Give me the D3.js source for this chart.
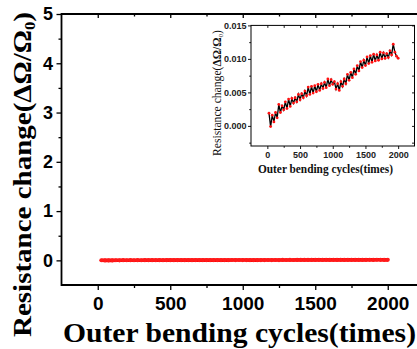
<!DOCTYPE html>
<html><head><meta charset="utf-8">
<script src="https://cdn.jsdelivr.net/npm/d3@7"></script>
<style>body{margin:0;background:#fff}svg{display:block}</style>
</head><body>
<svg id="c" width="417" height="349"></svg>
<script>
const cycles = [25,50,75,100,125,150,175,200,225,250,275,300,325,350,375,400,425,450,475,500,
525,550,575,600,625,650,675,700,725,750,775,800,825,850,875,900,925,950,975,1000,
1025,1050,1075,1100,1125,1150,1175,1200,1225,1250,1275,1300,1325,1350,1375,1400,1425,1450,1475,1500,
1525,1550,1575,1600,1625,1650,1675,1700,1725,1750,1775,1800,1825,1850,1875,1900,1925,1950,1975,2000];
const resistance = [0.0019,-0.0001,0.0016,0.0006,0.0020,0.0012,0.0032,0.0020,0.0030,0.0024,
0.0036,0.0026,0.0040,0.0029,0.0041,0.0034,0.0042,0.0036,0.0047,0.0039,
0.0048,0.0042,0.0052,0.0045,0.0058,0.0047,0.0059,0.0049,0.0060,0.0051,
0.0062,0.0053,0.0063,0.0056,0.0065,0.0057,0.0070,0.0060,0.0069,0.0062,
0.0066,0.0055,0.0063,0.0053,0.0066,0.0059,0.0070,0.0063,0.0077,0.0068,
0.0080,0.0072,0.0085,0.0077,0.0090,0.0082,0.0096,0.0087,0.0098,0.0090,
0.0103,0.0093,0.0105,0.0095,0.0107,0.0097,0.0106,0.0098,0.0110,0.0100,
0.0109,0.0101,0.0108,0.0102,0.0112,0.0106,0.0122,0.0110,0.0104,0.0101];
const mainXTicks = [0,500,1000,1500,2000];
const mainXMinor = [250,750,1250,1750];
const mainYTicks = [0,1,2,3,4,5];
const mainYMinor = [0.5,1.5,2.5,3.5,4.5];
const insetXTicks = [0,500,1000,1500,2000];
const insetXMinor = [250,750,1250,1750];
const insetYTicks = [0,0.005,0.010,0.015];
const insetYMinor = [-0.0025,0.0025,0.0075,0.0125];

const data = cycles.map((c,i)=>({c, v: resistance[i]}));
const svg = d3.select("#c");
const SANS = "'Liberation Sans', Arial, sans-serif";
const SERIF = "'Liberation Serif', 'Times New Roman', serif";
const intFmt = d3.format("d");

// ---------- main plot ----------
const x = d3.scaleLinear().domain([-250,2250]).range([61.5,424]);
const y = d3.scaleLinear().domain([-0.5,5]).range([285,14]);

function styleAxis(g, fs){
  g.select(".domain").remove();
  g.selectAll(".tick line").attr("stroke","#000").attr("stroke-width",1.3);
  g.selectAll("text").attr("font-family",SANS).attr("font-weight","bold").attr("font-size",fs).attr("fill","#000");
}
svg.append("g").attr("transform","translate(0,285)")
  .call(d3.axisBottom(x).tickValues(mainXTicks).tickSize(5).tickPadding(7).tickFormat(intFmt)).call(g=>styleAxis(g,19));
svg.append("g").attr("transform","translate(0,285)")
  .call(d3.axisBottom(x).tickValues(mainXMinor).tickSize(3).tickFormat("")).call(g=>styleAxis(g,19));
svg.append("g").attr("transform","translate(61.5,0)")
  .call(d3.axisLeft(y).tickValues(mainYTicks).tickSize(5).tickPadding(3.5).tickFormat(intFmt)).call(g=>styleAxis(g,18));
svg.append("g").attr("transform","translate(61.5,0)")
  .call(d3.axisLeft(y).tickValues(mainYMinor).tickSize(3).tickFormat("")).call(g=>styleAxis(g,18));
svg.append("g").attr("transform","translate(0,14)")
  .call(d3.axisTop(x).tickValues(mainXTicks).tickSize(-4).tickFormat("")).call(g=>styleAxis(g,18));
svg.append("g").attr("transform","translate(0,14)")
  .call(d3.axisTop(x).tickValues(mainXMinor).tickSize(-2.5).tickFormat("")).call(g=>styleAxis(g,18));
// frame
svg.append("path").attr("d",`M${x(2250)},14H61.5V285H${x(2250)}`)
  .attr("fill","none").attr("stroke","#000").attr("stroke-width",1.8);

// main series
svg.append("path").datum(data)
  .attr("d", d3.line().x(d=>x(d.c)).y(d=>y(d.v)))
  .attr("fill","none").attr("stroke","#ff0000").attr("stroke-width",3.6);
svg.append("g").selectAll("circle").data(data).join("circle")
  .attr("cx",d=>x(d.c)).attr("cy",d=>y(d.v)).attr("r",2.1).attr("fill","#ff1a1a");

// main titles
svg.append("text").attr("transform","translate(31,174.5) rotate(-90)")
  .attr("text-anchor","middle").attr("font-family",SERIF).attr("font-weight","bold")
  .attr("font-size",26).attr("textLength",325).attr("lengthAdjust","spacingAndGlyphs")
  .call(t=>{
    t.append("tspan").text("Resistance change(ΔΩ/Ω");
    t.append("tspan").attr("font-size",15).attr("dy",4).text("0");
    t.append("tspan").attr("dy",-4).text(")");
  });
svg.append("text").attr("x",63).attr("y",342)
  .attr("font-family",SERIF).attr("font-weight","bold").attr("font-size",27)
  .attr("textLength",353).attr("lengthAdjust","spacingAndGlyphs")
  .text("Outer bending cycles(times)");

// ---------- inset ----------
const ix = d3.scaleLinear().domain([-250,2250]).range([251,414.5]);
const iy = d3.scaleLinear().domain([-0.003,0.015]).range([146,25.4]);
const L=251, R=414.5, T=25.4, B=146;
svg.append("rect").attr("x",L).attr("y",T).attr("width",R-L).attr("height",B-T).attr("fill","#fff");
function styleInset(g){
  g.select(".domain").remove();
  g.selectAll(".tick line").attr("stroke","#000").attr("stroke-width",0.9);
  g.selectAll("text").attr("font-family",SANS).attr("font-weight","bold").attr("font-size",9).attr("fill","#222");
}
svg.append("g").attr("transform",`translate(0,${B})`)
  .call(d3.axisBottom(ix).tickValues(insetXTicks).tickSize(3).tickPadding(2.5).tickFormat(intFmt)).call(styleInset);
svg.append("g").attr("transform",`translate(0,${B})`)
  .call(d3.axisBottom(ix).tickValues(insetXMinor).tickSize(1.8).tickFormat("")).call(styleInset);
svg.append("g").attr("transform",`translate(${L},0)`)
  .call(d3.axisLeft(iy).tickValues(insetYTicks).tickSize(3).tickPadding(1.5).tickFormat(d3.format(".3f"))).call(styleInset);
svg.append("g").attr("transform",`translate(${L},0)`)
  .call(d3.axisLeft(iy).tickValues(insetYMinor).tickSize(1.8).tickFormat("")).call(styleInset);
svg.append("g").attr("transform",`translate(0,${T})`)
  .call(d3.axisTop(ix).tickValues(insetXTicks.concat(insetXMinor)).tickSize(-2.5).tickFormat("")).call(styleInset);
svg.append("g").attr("transform",`translate(${R},0)`)
  .call(d3.axisRight(iy).tickValues(insetYTicks.concat(insetYMinor)).tickSize(-2.5).tickFormat("")).call(styleInset);
svg.append("rect").attr("x",L).attr("y",T).attr("width",R-L).attr("height",B-T)
  .attr("fill","none").attr("stroke","#000").attr("stroke-width",1);

svg.append("path").datum(data)
  .attr("d", d3.line().x(d=>ix(d.c)).y(d=>iy(d.v)))
  .attr("fill","none").attr("stroke","#000").attr("stroke-width",1.3);
svg.append("g").selectAll("circle").data(data).join("circle")
  .attr("cx",d=>ix(d.c)).attr("cy",d=>iy(d.v)).attr("r",1.4).attr("fill","#ff1010");

svg.append("text").attr("transform","translate(221,93) rotate(-90)")
  .attr("text-anchor","middle").attr("font-family",SERIF).attr("font-size",11.5)
  .attr("textLength",126).attr("lengthAdjust","spacingAndGlyphs").attr("fill","#111")
  .call(t=>{
    t.append("tspan").text("Resistance change(");
    t.append("tspan").attr("font-weight","bold").text("ΔΩ/Ω");
    t.append("tspan").attr("font-size",7).attr("dy",2).text("0");
    t.append("tspan").attr("dy",-2).text(")");
  });
svg.append("text").attr("x",325.5).attr("y",172.5).attr("text-anchor","middle")
  .attr("font-family",SERIF).attr("font-weight","bold").attr("font-size",11.5)
  .attr("textLength",135).attr("lengthAdjust","spacingAndGlyphs").attr("fill","#111")
  .text("Outer bending cycles(times)");
</script>
</body></html>
